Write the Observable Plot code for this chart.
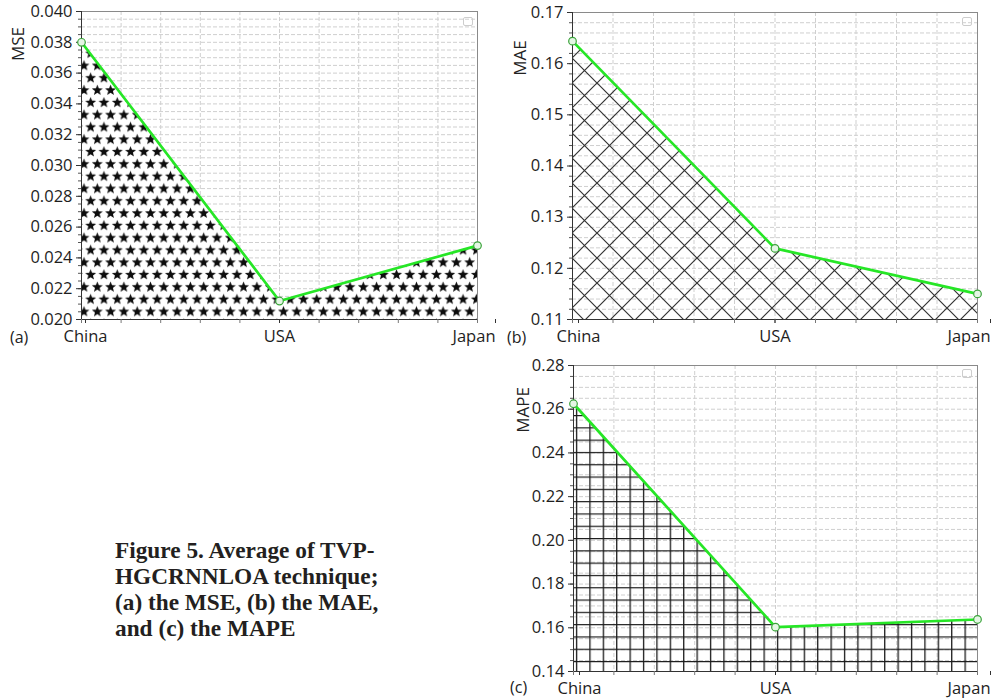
<!DOCTYPE html>
<html><head><meta charset="utf-8">
<script src="https://cdn.jsdelivr.net/npm/d3@7"></script>
<script src="https://cdn.jsdelivr.net/npm/@observablehq/plot@0.6"></script>
<style>
body{margin:0;background:#fff;width:992px;height:699px;position:relative;overflow:hidden;font-family:"Open Sans",sans-serif;}
.panel{position:absolute;}
.panel svg{overflow:visible;display:block;}
.ylab{position:absolute;font-size:17px;line-height:17px;color:#222;transform:translate(-50%,-50%) rotate(-90deg);white-space:nowrap;}
.plab{position:absolute;font-size:16px;line-height:16px;color:#222;}
.leg{position:absolute;width:8px;height:7px;border:1px solid #cdcdcd;border-radius:2px;}
.caption{position:absolute;left:115px;top:537px;font-family:"Liberation Serif",serif;font-weight:bold;font-size:23.3px;line-height:26px;color:#231f20;white-space:nowrap;}
</style></head><body>
<script>
// ---- data ----
const categories = ["China", "USA", "Japan"];
const mseValues  = [0.0380, 0.0212, 0.0248];
const maeValues  = [0.1644, 0.1239, 0.1150];
const mapeValues = [0.2625, 0.1603, 0.1638];
const mseTicks  = [0.020, 0.022, 0.024, 0.026, 0.028, 0.030, 0.032, 0.034, 0.036, 0.038, 0.040];
const maeTicks  = [0.11, 0.12, 0.13, 0.14, 0.15, 0.16, 0.17];
const mapeTicks = [0.14, 0.16, 0.18, 0.20, 0.22, 0.24, 0.26, 0.28];
const yLabels = ["MSE", "MAE", "MAPE"];
const panelTags = ["(a)", "(b)", "(c)"];
const captionLines = ["Figure 5. Average of TVP-", "HGCRNNLOA technique;", "(a) the MSE, (b) the MAE,", "and (c) the MAPE"];

const body = document.body;

function starPath(cx, cy, R, r) {
  let d = "";
  for (let k = 0; k < 10; k++) {
    const rad = k % 2 === 0 ? R : r;
    const a = -Math.PI / 2 + k * Math.PI / 5;
    d += (k === 0 ? "M" : "L") + (cx + rad * Math.cos(a)).toFixed(2) + "," + (cy + rad * Math.sin(a)).toFixed(2);
  }
  return d + "Z";
}

function addPattern(svg, kind, id, ox, oy) {
  const defs = d3.select(svg).insert("defs", ":first-child");
  if (kind === "stars") {
    const w = 13.3, h = 24.6, R = 5.7, r = 2.45;
    const p = defs.append("pattern").attr("id", id).attr("patternUnits", "userSpaceOnUse")
      .attr("x", ox).attr("y", oy).attr("width", w).attr("height", h);
    p.append("rect").attr("width", w).attr("height", h).attr("fill", "#fff");
    // two stars per tile (staggered rows) plus their wrap-around copies
    const pts = [[3.3, 6.15], [3.3 + w, 6.15], [9.95, 18.45], [9.95 - w, 18.45]];
    p.append("path").attr("d", pts.map(([x, y]) => starPath(x, y, R, r)).join("")).attr("fill", "#0d0d0d");
  } else if (kind === "hatch") {
    const s = 25;
    const p = defs.append("pattern").attr("id", id).attr("patternUnits", "userSpaceOnUse")
      .attr("x", ox).attr("y", oy).attr("width", s).attr("height", s);
    p.append("path").attr("d", `M-2,-2L${s + 2},${s + 2}M-2,${s + 2}L${s + 2},-2`)
      .attr("stroke", "#333").attr("stroke-width", 1.2).attr("fill", "none");
  } else {
    const w = 13.4, h = 12.3;
    const p = defs.append("pattern").attr("id", id).attr("patternUnits", "userSpaceOnUse")
      .attr("x", ox).attr("y", oy).attr("width", w).attr("height", h);
    p.append("path").attr("d", `M0,0.65H${w}M0.65,0V${h}`)
      .attr("stroke", "#1a1a1a").attr("stroke-width", 1.3).attr("fill", "none");
  }
}

function makePanel(cfg) {
  const data = cfg.values.map((v, i) => ({i, v}));
  const yMin = cfg.ticks[0], yMax = cfg.ticks[cfg.ticks.length - 1];
  const minorY = d3.range(0, Math.round((yMax - yMin) / cfg.minorStep) + 1).map(k => yMin + k * cfg.minorStep);
  const minorX = d3.range(0, 11).map(k => k * 0.2);
  const last = categories.length - 1;
  const font = {fontSize: 16.5, fill: "#1e1e1e"};
  const svg = Plot.plot({
    width: cfg.width, height: cfg.height,
    marginLeft: cfg.mL, marginRight: cfg.mR, marginTop: cfg.mT, marginBottom: cfg.mB,
    style: {fontFamily: "Open Sans, sans-serif", fontSize: "16.5px", color: "#1e1e1e", background: "transparent", overflow: "visible"},
    x: {domain: [0, last]},
    y: {domain: [yMin, yMax]},
    marks: [
      Plot.gridY(minorY, {stroke: "#cfcfcf", strokeOpacity: 1, strokeDasharray: "4,2"}),
      Plot.gridX(minorX, {stroke: "#cfcfcf", strokeOpacity: 1, strokeDasharray: "4,2"}),
      Plot.areaY(data, {x: "i", y: "v", fill: `url(#${cfg.id})`, clip: true}),
      Plot.frame({stroke: "#8a8a8a"}),
      Plot.frame({anchor: "left", stroke: "#333"}),
      Plot.frame({anchor: "bottom", stroke: "#333"}),
      Plot.axisY(minorY, {tickSize: 3, tickFormat: () => "", label: null, stroke: "#555"}),
      Plot.axisY(cfg.ticks, {...font, tickSize: 5, tickPadding: 4, tickFormat: cfg.fmt, label: null, stroke: "#333"}),
      Plot.axisX(minorX, {tickSize: 4, tickFormat: () => "", label: null, stroke: "#777"}),
      Plot.axisX([0], {...font, tickSize: 4, tickPadding: 7, dx: cfg.chinaDx, tickFormat: i => categories[i], label: null, stroke: "#333"}),
      Plot.axisX([1], {...font, tickSize: 4, tickPadding: 7, tickFormat: i => categories[i], label: null, stroke: "#333"}),
      Plot.axisX([last], {...font, tickSize: 4, tickPadding: 7, textAnchor: "end", dx: cfg.japanDx, tickFormat: i => categories[i], label: null, stroke: "#333"}),
      Plot.line(data, {x: "i", y: "v", stroke: "#26e626", strokeWidth: 2.7}),
      Plot.dot(data, {x: "i", y: "v", r: 3.8, stroke: "#3aa33a", fill: "#e4f6e4", strokeWidth: 1.2})
    ]
  });
  addPattern(svg, cfg.kind, cfg.id, cfg.px, cfg.py);
  const div = document.createElement("div");
  div.className = "panel";
  div.style.left = cfg.left + "px";
  div.style.top = cfg.top + "px";
  div.appendChild(svg);
  body.appendChild(div);
}

makePanel({id: "patA", kind: "stars", values: mseValues, ticks: mseTicks, minorStep: 0.0005, fmt: d3.format(".3f"),
  left: 0, top: 0, width: 500, height: 352, mL: 81, mR: 23, mT: 11, mB: 33, px: 80.7, py: 305.55, chinaDx: 4, japanDx: 18});
makePanel({id: "patB", kind: "hatch", values: maeValues, ticks: maeTicks, minorStep: 0.002, fmt: d3.format(".2f"),
  left: 495, top: 0, width: 497, height: 352, mL: 77, mR: 15, mT: 12, mB: 33, px: 77, py: 83, chinaDx: 6, japanDx: 13});
makePanel({id: "patC", kind: "grid", values: mapeValues, ticks: mapeTicks, minorStep: 0.005, fmt: d3.format(".2f"),
  left: 495, top: 353, width: 497, height: 346, mL: 78, mR: 15, mT: 12, mB: 28, px: 94.3, py: 308, chinaDx: 6, japanDx: 13});

// axis labels, panel tags, empty legend boxes, caption
const ylabPos = [[17, 44], [519, 58], [522, 410]];
yLabels.forEach((t, k) => {
  const d = document.createElement("div");
  d.className = "ylab"; d.textContent = t;
  d.style.left = ylabPos[k][0] + "px"; d.style.top = ylabPos[k][1] + "px";
  body.appendChild(d);
});
const tagPos = [[10, 329], [507, 329], [510, 679]];
panelTags.forEach((t, k) => {
  const d = document.createElement("div");
  d.className = "plab"; d.textContent = t;
  d.style.left = tagPos[k][0] + "px"; d.style.top = tagPos[k][1] + "px";
  body.appendChild(d);
});
[[463, 17], [962, 17], [962, 369]].forEach(([x, y]) => {
  const d = document.createElement("div");
  d.className = "leg"; d.style.left = x + "px"; d.style.top = y + "px";
  body.appendChild(d);
});
const cap = document.createElement("div");
cap.className = "caption";
cap.innerHTML = captionLines.join("<br>");
body.appendChild(cap);
</script>
</body></html>
